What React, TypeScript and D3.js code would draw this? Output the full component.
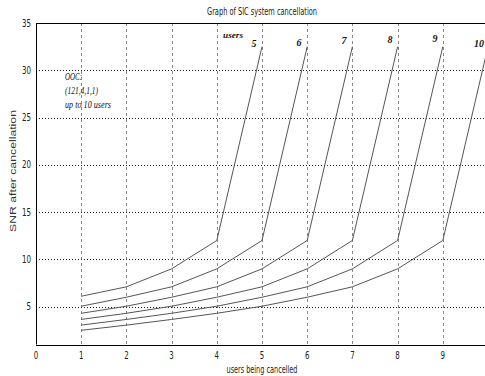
import React from "react";
import * as d3 from "d3";

// SNR of the last user after cancelling k users, one series per user count
const userCounts = [5, 6, 7, 8, 9, 10];
const snr5 = [6.1, 7.1, 9.0, 12.0, 32.5];
const snr6 = [5.05, 6.0, 7.1, 9.0, 12.0, 32.5];
const snr7 = [4.3, 5.05, 6.0, 7.1, 9.0, 12.0, 32.5];
const snr8 = [3.65, 4.3, 5.05, 6.0, 7.1, 9.0, 12.0, 32.5];
const snr9 = [3.05, 3.65, 4.3, 5.05, 6.0, 7.1, 9.0, 12.0, 32.5];
const snr10 = [2.5, 3.05, 3.65, 4.3, 5.05, 6.0, 7.1, 9.0, 12.0, 32.5];
const seriesList = [snr5, snr6, snr7, snr8, snr9, snr10];

const xTicks = [0, 1, 2, 3, 4, 5, 6, 7, 8, 9];
const yTicks = [5, 10, 15, 20, 25, 30, 35];
const xGrid = [1, 2, 3, 4, 5, 6, 7, 8, 9];
const yGrid = [5, 10, 15, 20, 25, 30];
const oocLines = ["OOC:", "(121,4,1,1)", "up to 10 users"];

const W = 485;
const H = 376;
const narrow = "'Liberation Sans Narrow', 'DejaVu Sans Condensed', 'Arial Narrow', sans-serif";
const serif = "'Liberation Serif', 'DejaVu Serif', serif";

const App = () => {
  const svgRef = React.useRef<SVGSVGElement>(null);

  React.useEffect(() => {
    const svg = d3.select(svgRef.current);
    svg.selectAll("*").remove();

    const x = d3.scaleLinear().domain([0, 10]).range([36, 488]);
    const y = d3.scaleLinear().domain([1, 35]).range([344.5, 23]);

    const g = svg.append("g");

    // grid
    g.selectAll(".vg")
      .data(xGrid)
      .enter()
      .append("line")
      .attr("x1", (d) => Math.round(x(d)) + 0.5)
      .attr("x2", (d) => Math.round(x(d)) + 0.5)
      .attr("y1", y(35))
      .attr("y2", y(1))
      .attr("stroke", "#888")
      .attr("stroke-dasharray", "3,3");

    g.selectAll(".hg")
      .data(yGrid)
      .enter()
      .append("line")
      .attr("x1", x(0))
      .attr("x2", W)
      .attr("y1", (d) => Math.round(y(d)) + 0.5)
      .attr("y2", (d) => Math.round(y(d)) + 0.5)
      .attr("stroke", "#222")
      .attr("stroke-dasharray", "1,2");

    // axes box
    g.append("line").attr("x1", x(0)).attr("x2", W).attr("y1", Math.round(y(35)) + 0.5).attr("y2", Math.round(y(35)) + 0.5).attr("stroke", "#000");
    g.append("line").attr("x1", x(0)).attr("x2", W).attr("y1", Math.round(y(1)) + 0.5).attr("y2", Math.round(y(1)) + 0.5).attr("stroke", "#000");
    g.append("line").attr("x1", x(0) + 0.5).attr("x2", x(0) + 0.5).attr("y1", y(35)).attr("y2", y(1)).attr("stroke", "#000");

    // curves
    const line = d3
      .line<number>()
      .x((d, i) => x(i + 1))
      .y((d) => y(d));

    g.selectAll(".curve")
      .data(seriesList)
      .enter()
      .append("path")
      .attr("fill", "none")
      .attr("stroke", "#555")
      .attr("stroke-width", 1)
      .attr("d", (d) => line(d));

    // tick labels
    g.selectAll(".xt")
      .data(xTicks)
      .enter()
      .append("text")
      .attr("x", (d) => x(d))
      .attr("y", 359)
      .attr("text-anchor", "middle")
      .attr("font-family", narrow)
      .attr("font-size", 10)
      .attr("textLength", 4.5)
      .attr("lengthAdjust", "spacingAndGlyphs")
      .attr("fill", "#222")
      .text((d) => d);

    g.selectAll(".yt")
      .data(yTicks)
      .enter()
      .append("text")
      .attr("x", 31)
      .attr("y", (d) => y(d) + 3.5)
      .attr("text-anchor", "end")
      .attr("font-family", narrow)
      .attr("font-size", 10)
      .attr("textLength", (d) => String(d).length * 4.5)
      .attr("lengthAdjust", "spacingAndGlyphs")
      .attr("fill", "#222")
      .text((d) => d);

    // titles
    svg.append("text")
      .attr("x", 262)
      .attr("y", 15)
      .attr("text-anchor", "middle")
      .attr("font-family", narrow)
      .attr("font-size", 10)
      .attr("textLength", 110)
      .attr("lengthAdjust", "spacingAndGlyphs")
      .attr("fill", "#222")
      .text("Graph of SIC system cancellation");

    svg.append("text")
      .attr("x", 262)
      .attr("y", 373)
      .attr("text-anchor", "middle")
      .attr("font-family", narrow)
      .attr("font-size", 10)
      .attr("textLength", 71)
      .attr("lengthAdjust", "spacingAndGlyphs")
      .attr("fill", "#222")
      .text("users being cancelled");

    svg.append("text")
      .attr("transform", "translate(16,171) rotate(-90)")
      .attr("text-anchor", "middle")
      .attr("font-family", "'Liberation Sans', Arial, sans-serif")
      .attr("font-size", 8.5)
      .attr("textLength", 122)
      .attr("lengthAdjust", "spacingAndGlyphs")
      .attr("fill", "#333")
      .text("SNR after cancellation");

    // annotations
    const labelPos = [
      { x: 254, y: 47 },
      { x: 299, y: 46 },
      { x: 344, y: 44 },
      { x: 390, y: 43 },
      { x: 435, y: 42 },
      { x: 479, y: 47 },
    ];
    g.selectAll(".ul")
      .data(userCounts)
      .enter()
      .append("text")
      .attr("x", (d, i) => labelPos[i].x)
      .attr("y", (d, i) => labelPos[i].y)
      .attr("text-anchor", "middle")
      .attr("font-family", serif)
      .attr("font-weight", "bold")
      .attr("font-style", "italic")
      .attr("font-size", 10)
      .attr("fill", "#111")
      .text((d) => d);

    svg.append("text")
      .attr("x", 223)
      .attr("y", 38)
      .attr("font-family", serif)
      .attr("font-weight", "bold")
      .attr("font-style", "italic")
      .attr("font-size", 9)
      .attr("textLength", 20)
      .attr("lengthAdjust", "spacingAndGlyphs")
      .attr("fill", "#111")
      .text("users");

    const oocWidths = [17, 33, 46];
    svg.selectAll(".ooc")
      .data(oocLines)
      .enter()
      .append("text")
      .attr("x", 65)
      .attr("y", (d, i) => 80 + i * 14)
      .attr("font-family", serif)
      .attr("font-style", "italic")
      .attr("font-size", 10)
      .attr("textLength", (d, i) => oocWidths[i])
      .attr("lengthAdjust", "spacingAndGlyphs")
      .attr("fill", "#111")
      .text((d) => d);
  }, []);

  return (
    <svg
      ref={svgRef}
      width={W}
      height={H}
      style={{ position: "absolute", left: 0, top: 0, background: "#fff" }}
    />
  );
};

export default App;
